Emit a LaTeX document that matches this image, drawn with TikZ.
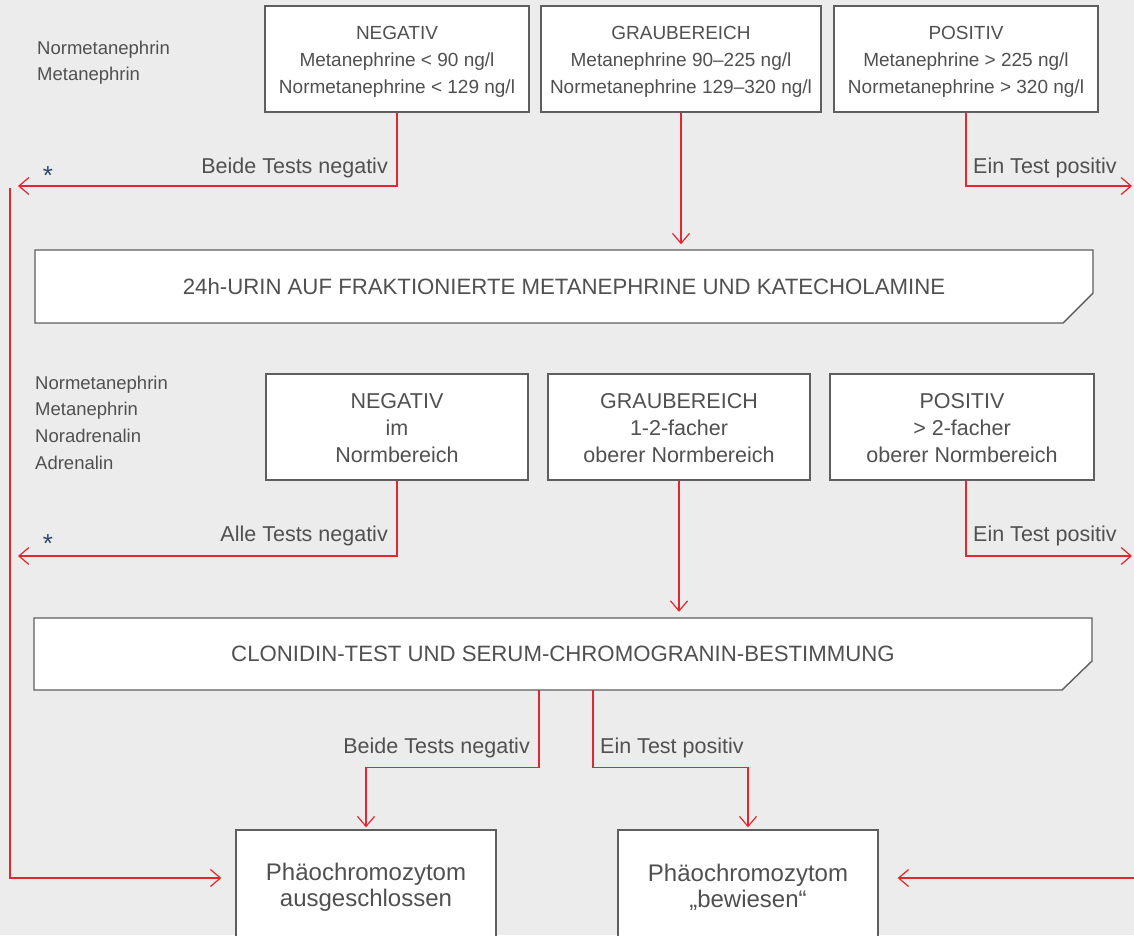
\documentclass[tikz,border=0pt]{standalone}
\usepackage{fontspec}
\setmainfont{Liberation Sans}
\usetikzlibrary{arrows.meta,calc}
\definecolor{bg}{HTML}{ECECEC}
\definecolor{txt}{HTML}{505050}
\definecolor{frame}{HTML}{5E5E5E}
\definecolor{rd}{HTML}{E3262F}
\definecolor{starc}{HTML}{2B4A6E}
\newcommand{\topstrut}{\rule{0pt}{18pt}}
\begin{document}
\begin{tikzpicture}[x=1pt,y=-1pt,
  box/.style={draw=frame,fill=white,line width=1.3pt,text=txt,align=center,
    minimum height=106pt,inner sep=0pt},
  rowone/.style={box,font=\fontsize{19}{27}\selectfont},
  rowtwo/.style={box,font=\fontsize{21.5}{27}\selectfont},
  result/.style={box,font=\fontsize{24}{26}\selectfont,minimum width=260pt,minimum height=114pt},
  bannerpath/.style={draw=frame,fill=white,line width=1.4pt},
  bannertext/.style={text=txt,font=\fontsize{22.2}{26}\selectfont,minimum width=1058pt,minimum height=72pt,inner sep=0pt},
  sidelbl/.style={text=txt,align=left,inner sep=0pt,anchor=north west},
  edgelbl/.style={text=txt,font=\fontsize{21.5}{24}\selectfont,inner sep=0pt},
  asterisk/.style={text=starc,font=\fontsize{26}{28}\selectfont,inner sep=0pt,anchor=base},
  arr/.style={draw=rd,line width=1.3pt,
    -{Straight Barb[length=10pt,width=17pt,line width=1.2pt]}}
]
\clip (0,0) rectangle (1134,935);
\fill[bg] (0,0) rectangle (1134,935);

% ---------- row 1 ----------
\node[sidelbl,font=\fontsize{18.5}{26}\selectfont] (lab1) at (37,41) {Normetanephrin\\Metanephrin};
\node[rowone,minimum width=264pt] (neg1) at (397,59) {\topstrut NEGATIV\\Metanephrine < 90 ng/l\\Normetanephrine < 129 ng/l};
\node[rowone,minimum width=280pt] (gr1) at (681,59) {\topstrut GRAUBEREICH\\Metanephrine 90–225 ng/l\\Normetanephrine 129–320 ng/l};
\node[rowone,minimum width=264pt] (pos1) at (966,59) {\topstrut POSITIV\\Metanephrine > 225 ng/l\\Normetanephrine > 320 ng/l};

\coordinate (endL1) at (18,186);
\coordinate (endR1) at (1132,186);
\draw[arr] (neg1.south) |- (endL1);
\draw[arr] (pos1.south) |- (endR1);
\node[edgelbl,anchor=base east] (t1) at (388,173) {Beide Tests negativ};
\node[edgelbl,anchor=base west] (t2) at (973,173) {Ein Test positiv};
\node[asterisk] (s1) at (48,184) {*};

% ---------- banner 1 ----------
\draw[bannerpath] (35,250) -- (1093,250) -- (1093,293) -- (1063,323) -- (35,323) -- cycle;
\node[bannertext] (ban1) at (564,286.5) {\raisebox{-1pt}{24h-URIN AUF FRAKTIONIERTE METANEPHRINE UND KATECHOLAMINE}};
\draw[arr,shorten >=6pt] (gr1.south) -- (gr1.south |- ban1.north);

% ---------- row 2 ----------
\node[sidelbl,font=\fontsize{18.5}{26.7}\selectfont] (lab2) at (35,375.5) {Normetanephrin\\Metanephrin\\Noradrenalin\\Adrenalin};
\node[rowtwo,minimum width=262pt] (neg2) at (397,427) {\topstrut NEGATIV\\im\\Normbereich};
\node[rowtwo,minimum width=262pt] (gr2) at (679,427) {\topstrut GRAUBEREICH\\1-2-facher\\oberer Normbereich};
\node[rowtwo,minimum width=264pt] (pos2) at (962,427) {\topstrut POSITIV\\> 2-facher\\oberer Normbereich};

\coordinate (endL2) at (18,556);
\coordinate (endR2) at (1132,556);
\draw[arr] (neg2.south) |- (endL2);
\draw[arr] ($(pos2.south)+(4pt,0)$) |- (endR2);
\node[edgelbl,anchor=base east] (t3) at (388,541) {Alle Tests negativ};
\node[edgelbl,anchor=base west] (t4) at (973,541) {Ein Test positiv};
\node[asterisk] (s2) at (48,552) {*};

% ---------- banner 2 ----------
\draw[bannerpath] (34,618) -- (1092,618) -- (1092,661) -- (1062,690) -- (34,690) -- cycle;
\node[bannertext] (ban2) at (563,654) {\raisebox{-3pt}{CLONIDIN-TEST UND SERUM-CHROMOGRANIN-BESTIMMUNG}};
\draw[arr,shorten >=6pt] (gr2.south) -- (gr2.south |- ban2.north);

% ---------- results ----------
\node[result] (res1) at (366,887) {Phäochromozytom\\ausgeschlossen};
\node[result] (res2) at (748,887) {Phäochromozytom\\„bewiesen“};

\draw[arr,shorten >=2pt] ($(ban2.south)+(-24pt,0)$) -- ++(0,77) -| (res1.north);
\draw[arr,shorten >=2pt] ($(ban2.south)+(30pt,0)$) -- ++(0,77) -| (res2.north);
\node[edgelbl,anchor=base east] (t5) at (530,753) {Beide Tests negativ};
\node[edgelbl,anchor=base west] (t6) at (600,753) {Ein Test positiv};

\coordinate (startL) at (10,188);
\coordinate (startR) at (1134,878);
\draw[arr,shorten >=14pt] (startL) |- ($(res1.west)+(0,9pt)$);
\draw[arr,shorten >=19pt] (startR) -- ($(res2.east)+(0,9pt)$);
\end{tikzpicture}
\end{document}
